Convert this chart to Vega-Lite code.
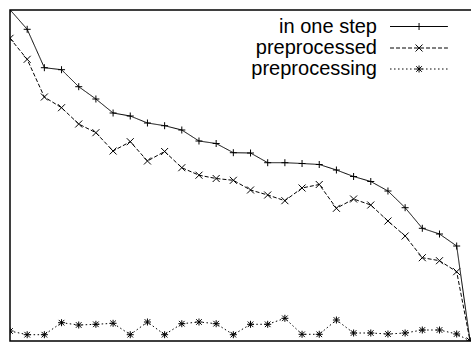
{
  "$schema": "https://vega.github.io/schema/vega-lite/v6.json",
  "width": 463,
  "height": 331,
  "autosize": "none",
  "padding": {"left": 10, "top": 10, "right": 0, "bottom": 3},
  "background": "white",
  "config": {"view": {"stroke": "black", "strokeWidth": 1.5}},
  "datasets": {
    "series": [
      {"i": 0, "s": "in one step", "v": 331.3}, {"i": 1, "s": "in one step", "v": 311.7}, {"i": 2, "s": "in one step", "v": 273.3}, {"i": 3, "s": "in one step", "v": 271.3}, {"i": 4, "s": "in one step", "v": 254.3}, {"i": 5, "s": "in one step", "v": 242}, {"i": 6, "s": "in one step", "v": 228}, {"i": 7, "s": "in one step", "v": 225}, {"i": 8, "s": "in one step", "v": 218}, {"i": 9, "s": "in one step", "v": 215.3}, {"i": 10, "s": "in one step", "v": 211}, {"i": 11, "s": "in one step", "v": 200}, {"i": 12, "s": "in one step", "v": 197.5}, {"i": 13, "s": "in one step", "v": 188.3}, {"i": 14, "s": "in one step", "v": 188}, {"i": 15, "s": "in one step", "v": 178.3}, {"i": 16, "s": "in one step", "v": 178.3}, {"i": 17, "s": "in one step", "v": 177.5}, {"i": 18, "s": "in one step", "v": 176.5}, {"i": 19, "s": "in one step", "v": 171}, {"i": 20, "s": "in one step", "v": 164.5}, {"i": 21, "s": "in one step", "v": 159.5}, {"i": 22, "s": "in one step", "v": 150}, {"i": 23, "s": "in one step", "v": 133.3}, {"i": 24, "s": "in one step", "v": 112.7}, {"i": 25, "s": "in one step", "v": 107}, {"i": 26, "s": "in one step", "v": 95}, {"i": 26.78, "s": "in one step", "v": 0},
      {"i": 0, "s": "preprocessed", "v": 302.7}, {"i": 1, "s": "preprocessed", "v": 281.7}, {"i": 2, "s": "preprocessed", "v": 244}, {"i": 3, "s": "preprocessed", "v": 233.3}, {"i": 4, "s": "preprocessed", "v": 217}, {"i": 5, "s": "preprocessed", "v": 208.3}, {"i": 6, "s": "preprocessed", "v": 190}, {"i": 7, "s": "preprocessed", "v": 199.3}, {"i": 8, "s": "preprocessed", "v": 180}, {"i": 9, "s": "preprocessed", "v": 189.5}, {"i": 10, "s": "preprocessed", "v": 173.3}, {"i": 11, "s": "preprocessed", "v": 165.8}, {"i": 12, "s": "preprocessed", "v": 162.5}, {"i": 13, "s": "preprocessed", "v": 160.7}, {"i": 14, "s": "preprocessed", "v": 151}, {"i": 15, "s": "preprocessed", "v": 146}, {"i": 16, "s": "preprocessed", "v": 140.3}, {"i": 17, "s": "preprocessed", "v": 153}, {"i": 18, "s": "preprocessed", "v": 156.5}, {"i": 19, "s": "preprocessed", "v": 132.7}, {"i": 20, "s": "preprocessed", "v": 142}, {"i": 21, "s": "preprocessed", "v": 136}, {"i": 22, "s": "preprocessed", "v": 120}, {"i": 23, "s": "preprocessed", "v": 105}, {"i": 24, "s": "preprocessed", "v": 83.3}, {"i": 25, "s": "preprocessed", "v": 80.3}, {"i": 26, "s": "preprocessed", "v": 69.3}, {"i": 26.78, "s": "preprocessed", "v": 0},
      {"i": 0, "s": "preprocessing", "v": 10}, {"i": 1, "s": "preprocessing", "v": 6.3}, {"i": 2, "s": "preprocessing", "v": 6.3}, {"i": 3, "s": "preprocessing", "v": 18.3}, {"i": 4, "s": "preprocessing", "v": 16}, {"i": 5, "s": "preprocessing", "v": 16.7}, {"i": 6, "s": "preprocessing", "v": 17.7}, {"i": 7, "s": "preprocessing", "v": 6.3}, {"i": 8, "s": "preprocessing", "v": 19}, {"i": 9, "s": "preprocessing", "v": 6.3}, {"i": 10, "s": "preprocessing", "v": 17.3}, {"i": 11, "s": "preprocessing", "v": 19}, {"i": 12, "s": "preprocessing", "v": 17.3}, {"i": 13, "s": "preprocessing", "v": 6.3}, {"i": 14, "s": "preprocessing", "v": 16.7}, {"i": 15, "s": "preprocessing", "v": 16.7}, {"i": 16, "s": "preprocessing", "v": 22.7}, {"i": 17, "s": "preprocessing", "v": 6.7}, {"i": 18, "s": "preprocessing", "v": 6.7}, {"i": 19, "s": "preprocessing", "v": 21}, {"i": 20, "s": "preprocessing", "v": 8}, {"i": 21, "s": "preprocessing", "v": 8}, {"i": 22, "s": "preprocessing", "v": 7}, {"i": 23, "s": "preprocessing", "v": 8}, {"i": 24, "s": "preprocessing", "v": 11}, {"i": 25, "s": "preprocessing", "v": 11}, {"i": 26, "s": "preprocessing", "v": 7}, {"i": 26.78, "s": "preprocessing", "v": 0}
    ],
    "legend": [
      {"s": "in one step", "tx": 21.36, "x1": 22.12, "x2": 25.49, "mx": 23.81, "y": 314.5},
      {"s": "preprocessed", "tx": 21.36, "x1": 22.12, "x2": 25.49, "mx": 23.81, "y": 293},
      {"s": "preprocessing", "tx": 21.36, "x1": 22.12, "x2": 25.49, "mx": 23.81, "y": 272}
    ]
  },
  "layer": [
    {
      "data": {"name": "series"},
      "mark": {"type": "line", "stroke": "black", "strokeWidth": 1, "clip": true},
      "encoding": {
        "x": {"field": "i", "type": "quantitative", "scale": {"domain": [0, 26.95], "nice": false, "zero": false}, "axis": null},
        "y": {"field": "v", "type": "quantitative", "scale": {"domain": [0, 331], "nice": false}, "axis": null},
        "detail": {"field": "s"},
        "strokeDash": {"field": "s", "type": "nominal", "scale": {"domain": ["in one step", "preprocessed", "preprocessing"], "range": [[1, 0], [4, 2], [1.5, 2.5]]}, "legend": null}
      }
    },
    {
      "data": {"name": "series"},
      "mark": {"type": "point", "filled": false, "stroke": "black", "strokeWidth": 1, "opacity": 1, "size": 49, "clip": true},
      "encoding": {
        "x": {"field": "i", "type": "quantitative"},
        "y": {"field": "v", "type": "quantitative"},
        "shape": {"field": "s", "type": "nominal", "scale": {"domain": ["in one step", "preprocessed", "preprocessing"], "range": ["M-1,0L1,0M0,-1L0,1", "M-1,-1L1,1M-1,1L1,-1", "M-1,0L1,0M0,-1L0,1M-0.8,-0.8L0.8,0.8M-0.8,0.8L0.8,-0.8"]}, "legend": null}
      }
    },
    {
      "data": {"name": "legend"},
      "mark": {"type": "text", "align": "right", "baseline": "middle", "font": "Liberation Sans", "fontSize": 20, "color": "black"},
      "encoding": {
        "x": {"field": "tx", "type": "quantitative"},
        "y": {"field": "y", "type": "quantitative"},
        "text": {"field": "s"}
      }
    },
    {
      "data": {"name": "legend"},
      "mark": {"type": "rule", "stroke": "black", "strokeWidth": 1},
      "encoding": {
        "x": {"field": "x1", "type": "quantitative"},
        "x2": {"field": "x2"},
        "y": {"field": "y", "type": "quantitative"},
        "strokeDash": {"field": "s", "type": "nominal", "legend": null}
      }
    },
    {
      "data": {"name": "legend"},
      "mark": {"type": "point", "filled": false, "stroke": "black", "strokeWidth": 1, "opacity": 1, "size": 49},
      "encoding": {
        "x": {"field": "mx", "type": "quantitative"},
        "y": {"field": "y", "type": "quantitative"},
        "shape": {"field": "s", "type": "nominal", "legend": null}
      }
    }
  ]
}
